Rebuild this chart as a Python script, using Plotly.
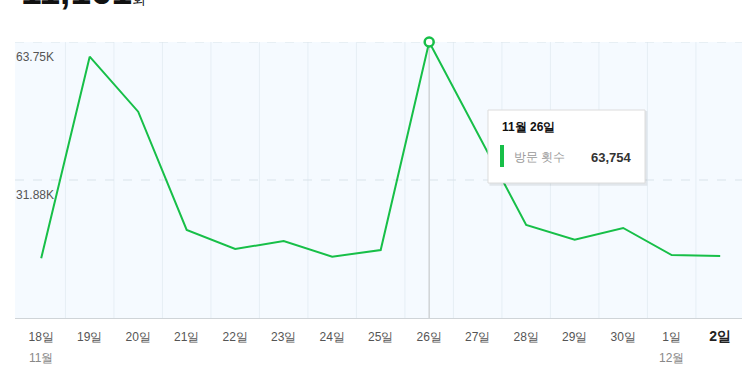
import plotly.graph_objects as go

days = ["18일", "19일", "20일", "21일", "22일", "23일", "24일", "25일", "26일",
        "27일", "28일", "29일", "30일", "1일", "2일"]
visits = [13791, 60360, 47655, 20328, 15939, 17787, 14160, 15708, 63754,
          42504, 21483, 18087, 20790, 14553, 14322]
y_ticks = [31877, 63754]
y_tick_labels = ["31.88K", "63.75K"]
months = [(0, "11월"), (13, "12월")]
total_text = "11,161"
hover_idx = 8
series_name = "방문 횟수"

GREEN = "#17bf48"
FONT = "Liberation Sans, Arial, sans-serif"

xs = list(range(len(days)))
ticktext = list(days)
ticktext[-1] = "<b><span style='font-size:14px;color:#222'>" + days[-1] + "</span></b>"

fig = go.Figure()
fig.add_trace(go.Scatter(x=xs, y=visits, mode="lines",
                         line=dict(color=GREEN, width=2), hoverinfo="skip",
                         cliponaxis=False))
# hover guide line
fig.add_shape(type="line", xref="x", yref="y", x0=hover_idx, x1=hover_idx,
              y0=0, y1=visits[hover_idx], line=dict(color="#cfd3d6", width=1.5), layer="below")
fig.add_trace(go.Scatter(x=[hover_idx], y=[visits[hover_idx]], mode="markers",
                         marker=dict(size=9, color="white", line=dict(color=GREEN, width=2.5)),
                         hoverinfo="skip", cliponaxis=False))

# vertical dividers between categories
for i in range(len(days) - 1):
    fig.add_shape(type="line", xref="x", yref="paper", x0=i + 0.5, x1=i + 0.5, y0=0, y1=1,
                  line=dict(color="#e6eef5", width=1), layer="below")
# dashed grid lines
for v in y_ticks:
    fig.add_shape(type="line", xref="paper", yref="y", x0=0, x1=1, y0=v, y1=v,
                  line=dict(color="#d9e3ea", width=1, dash="dash"), layer="below")
for v, t in zip(y_ticks, y_tick_labels):
    fig.add_annotation(x=0, xref="paper", y=v, yref="y", text=t, showarrow=False,
                       xanchor="left", yanchor="top", yshift=-6, xshift=-1,
                       font=dict(family=FONT, size=12, color="#555"))
for idx, m in months:
    fig.add_annotation(x=idx, xref="x", y=-0.145, yref="paper", text=m, showarrow=False,
                       xanchor="center", yanchor="middle",
                       font=dict(family=FONT, size=12, color="#888"))

# title number (cut off at top, as in the reference)
fig.add_annotation(x=0.006, xref="paper", y=1.100, yref="paper",
                   text="<b>" + total_text + "</b><span style='font-size:14px'>회</span>",
                   showarrow=False, xanchor="left", yanchor="bottom",
                   font=dict(family=FONT, size=37, color="#111"))

# tooltip
bx0, bx1, by0, by1 = 0.6506, 0.8666, 0.4891, 0.7536
fig.add_shape(type="rect", xref="paper", yref="paper", x0=bx0 + 0.002, x1=bx1 + 0.003,
              y0=by0 - 0.01, y1=by1 - 0.004, fillcolor="rgba(0,0,0,0.08)", line=dict(width=0))
fig.add_shape(type="rect", xref="paper", yref="paper", x0=bx0, x1=bx1, y0=by0, y1=by1,
              fillcolor="white", line=dict(color="#dcdcdc", width=1))
fig.add_shape(type="rect", xref="paper", yref="paper", x0=0.6671, x1=0.6726,
              y0=0.5471, y1=0.6268, fillcolor=GREEN, line=dict(width=0))
fig.add_annotation(x=0.6665, xref="paper", y=0.692, yref="paper",
                   text="<b>11월 " + days[hover_idx] + "</b>", showarrow=False,
                   xanchor="left", yanchor="middle", font=dict(family=FONT, size=12, color="#111"))
fig.add_annotation(x=0.684, xref="paper", y=0.5833, yref="paper", text=series_name,
                   showarrow=False, xanchor="left", yanchor="middle",
                   font=dict(family=FONT, size=12, color="#999"))
fig.add_annotation(x=0.851, xref="paper", y=0.5833, yref="paper",
                   text="<b>{:,}</b>".format(visits[hover_idx]), showarrow=False,
                   xanchor="right", yanchor="middle", font=dict(family=FONT, size=13, color="#333"))

fig.update_layout(
    width=747, height=370, margin=dict(l=15, r=5, t=42, b=52),
    paper_bgcolor="white", plot_bgcolor="#f5faff", showlegend=False,
    xaxis=dict(range=[-0.54, 14.45], tickmode="array", tickvals=xs, ticktext=ticktext,
               showgrid=False, zeroline=False, showline=True, linecolor="#cfd4d8", linewidth=1,
               ticks="outside", ticklen=8, tickcolor="rgba(0,0,0,0)",
               tickfont=dict(family=FONT, size=12, color="#555"), fixedrange=True),
    yaxis=dict(range=[0, 63754], showgrid=False, zeroline=False, showticklabels=False,
               showline=False, fixedrange=True),
)
fig.write_html("out.html")
